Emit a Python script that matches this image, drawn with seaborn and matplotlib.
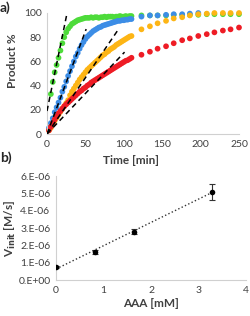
import numpy as np
import pandas as pd
import seaborn as sns
import matplotlib.pyplot as plt

# ---- datos panel a) ----
t_dense = [2.5, 5, 7.5, 10, 12.5, 15, 17.5, 20, 22.5, 25, 27.5, 30, 32.5, 35, 37.5, 40, 42.5, 45,
           47.5, 50, 52.5, 55, 57.5, 60, 62.5, 65, 67.5, 70, 72.5, 75, 77.5, 80, 82.5, 85, 87.5,
           90, 92.5, 95, 97.5, 100, 102.5, 105, 107.5, 110]
t_sparse = [123, 134, 144, 155, 165, 176, 186, 197, 208, 218, 229, 239, 250]

green_dense = [33, 43, 51, 57, 63, 69, 75, 80, 84, 87, 89, 91, 92, 93, 94, 94.5, 95, 95.5, 96,
               96, 96, 96.5, 96, 96.5, 96.5, 96, 96.5, 96.5, 97, 96.5, 97, 97, 97, 96.5, 97, 97,
               97.5, 97, 97, 97.5, 97, 97.5, 97.5]  # empieza en t=5
blue_dense = [5, 9, 13, 18, 22, 26, 30, 35, 39, 43.5, 48, 52, 56, 60, 64, 67, 70.5, 73.5, 76, 78.5,
              80.5, 82, 83.5, 85, 86, 87, 88, 88.5, 89.5, 90, 90.5, 91, 91.5, 92, 92.5, 93, 93.5,
              93.5, 94, 94, 94.5, 94.5, 95, 95]
orange_dense = [3, 5, 8, 11, 13.5, 16, 18.5, 21, 23, 25.5, 28, 32, 35, 37.5, 40, 42.5, 45, 47, 49,
                51, 53, 54.5, 56, 57.5, 59, 60.5, 62, 63.5, 65, 66, 67.5, 68.5, 70, 71, 72, 73.5,
                74.5, 75.5, 76.5, 77.5, 78.5, 79.5, 80.5, 81]
red_dense = [3, 6, 9, 12, 14.5, 17, 19, 21, 23, 24.5, 26, 27.5, 29, 30.5, 32, 33.5, 35, 36, 37.5,
             38.5, 40, 41, 42.5, 43.5, 44.5, 45.5, 46.5, 47.5, 48.5, 49.5, 50.5, 51.5, 52.5, 53.5,
             54.5, 55.5, 56.5, 57.5, 58.5, 59.5, 60.5, 61, 62, 63]

green_sparse = [98, 98, 98, 98, 98.5, 98.5, 98.5, 98.5, 99, 99, 99, 99, 99]
blue_sparse = [97, 98, 98, 98.5, 99, 99, 99.5, 100]
orange_sparse = [86.5, 89, 91.5, 93.5, 95.5, 96.5, 98, 99, 99.5, 100, 100, 100, 100]
red_sparse = [65.5, 68, 70.5, 72.5, 75, 77.5, 79, 81, 82.5, 84, 85.5, 86.5, 88]

# rectas tangentes (pendiente, ordenada, t final)
tan_slope = [3.1, 1.7, 0.93, 0.67]
tan_icpt = [19, 0, 0, 0]
tan_tend = [26, 51, 93, 101]

# ---- datos panel b) ----
aaa = [0, 0.82, 1.64, 3.28]
vinit = [0.75e-6, 1.62e-6, 2.78e-6, 5.1e-6]
vinit_err = [0.05e-6, 0.1e-6, 0.15e-6, 0.46e-6]
ytick_vals = [0, 1e-6, 2e-6, 3e-6, 4e-6, 5e-6, 6e-6]
ytick_labels = ["0.E+00", "1.E-06", "2.E-06", "3.E-06", "4.E-06", "5.E-06", "6.E-06"]

colores = ['#4ddb3a', '#3c8de6', '#fdb515', '#ee1c25']
nombres = ['green', 'blue', 'orange', 'red']

filas = []
series_dense = [green_dense, blue_dense, orange_dense, red_dense]
series_sparse = [green_sparse, blue_sparse, orange_sparse, red_sparse]
for n, d, s in zip(nombres, series_dense, series_sparse):
    tt = t_dense[len(t_dense) - len(d):]
    for t, p in zip(tt, d):
        filas.append((n, t, p))
    for t, p in zip(t_sparse[:len(s)], s):
        filas.append((n, t, p))
df = pd.DataFrame(filas, columns=['serie', 't', 'p'])

sns.set_style("white")
plt.rcParams['font.family'] = ['Lato', 'DejaVu Sans']
gris = '#404040'
spine_c = '#d0d0d0'

fig = plt.figure(figsize=(2.51, 3.16), dpi=100)
ax1 = fig.add_axes([47 / 251, 1 - 134 / 316, 192 / 251, 121 / 316])
ax2 = fig.add_axes([56 / 251, 1 - 280 / 316, 190 / 251, 104 / 316])

# panel a)
sns.scatterplot(data=df, x='t', y='p', hue='serie', hue_order=nombres, palette=colores,
                s=17, linewidth=0, legend=False, ax=ax1, clip_on=False)
for m, b, te in zip(tan_slope, tan_icpt, tan_tend):
    xx = np.array([0, te])
    ax1.plot(xx, b + m * xx, color='black', ls=(0, (3.5, 2.5)), lw=1.1, zorder=5)
ax1.set_xlim(0, 250)
ax1.set_ylim(0, 100)
ax1.set_xticks([0, 50, 100, 150, 200, 250])
ax1.set_yticks([0, 20, 40, 60, 80, 100])
ax1.set_xlabel("Time [min]", fontsize=8.5, fontweight='bold', color=gris)
ax1.set_ylabel("Product %", fontsize=8.5, fontweight='bold', color=gris)
ax1.xaxis.set_label_coords(0.44, -0.17)
ax1.yaxis.set_label_coords(-0.15, 0.61)

# panel b)
sns.regplot(x=aaa, y=vinit, scatter=False, ci=None, truncate=True, ax=ax2,
            line_kws={'ls': ':', 'color': '#333333', 'lw': 1.0})
ax2.errorbar(aaa, vinit, yerr=vinit_err, fmt='none', ecolor='#333333', elinewidth=0.8,
             capsize=2, capthick=0.8)
sns.scatterplot(x=aaa, y=vinit, color='black', s=16, linewidth=0, ax=ax2, zorder=4)
ax2.set_xlim(0, 4)
ax2.set_ylim(0, 6e-6)
ax2.set_xticks([0, 1, 2, 3, 4])
ax2.set_yticks(ytick_vals)
ax2.set_yticklabels(ytick_labels)
ax2.set_xlabel("AAA [mM]", fontsize=8.5, fontweight='bold', color=gris)
ax2.set_ylabel(r"V$_{\mathbf{init}}$ [M/s]", fontsize=8.5, fontweight='bold', color=gris)
ax2.xaxis.set_label_coords(0.5, -0.17)
ax2.yaxis.set_label_coords(-0.2, 0.5)

for ax in (ax1, ax2):
    sns.despine(ax=ax)
    for sp in ('left', 'bottom'):
        ax.spines[sp].set_color(spine_c)
        ax.spines[sp].set_linewidth(0.8)
    ax.tick_params(length=0, labelsize=7.5, labelcolor=gris, pad=4)
    ax.grid(False)

fig.text(0.0, 1 - 8 / 316, "a)", fontsize=10, fontweight='bold', va='center', ha='left')
fig.text(0.0, 1 - 158 / 316, "b)", fontsize=10, fontweight='bold', va='center', ha='left')

fig.savefig("out.png", dpi=100)
